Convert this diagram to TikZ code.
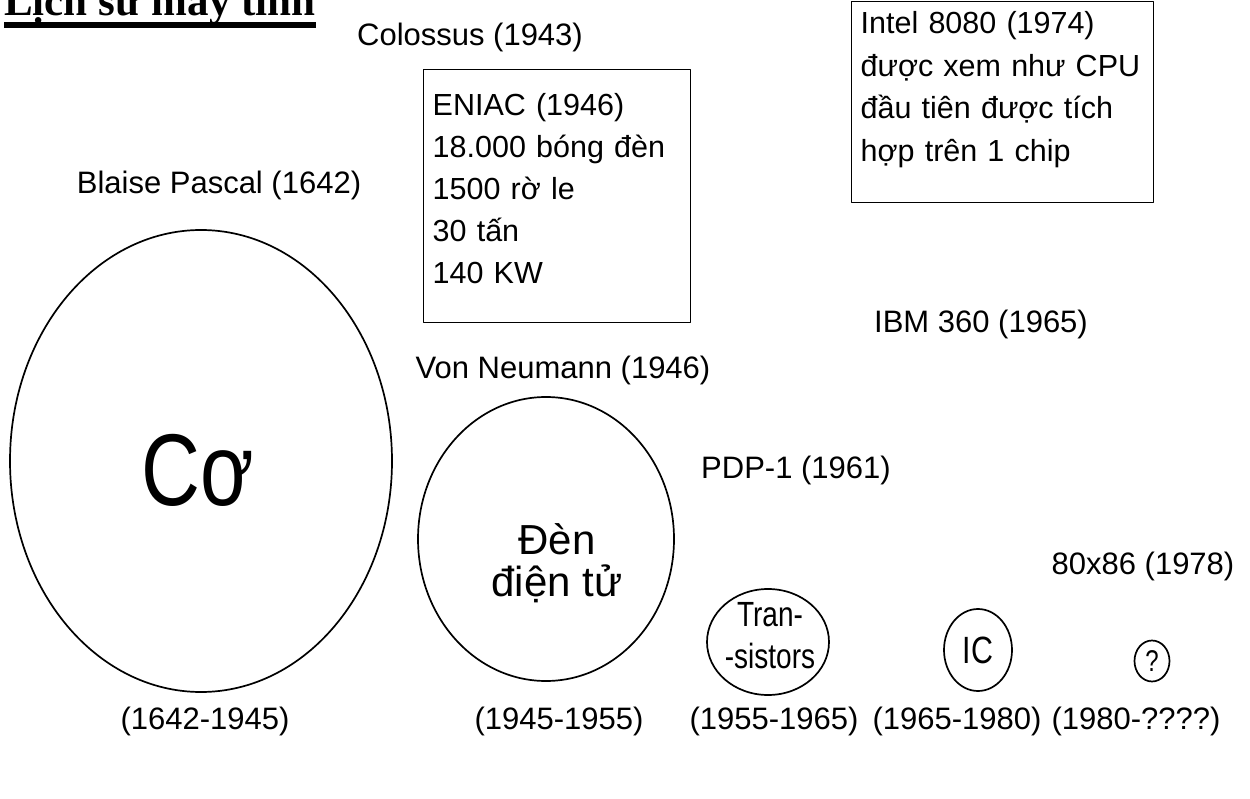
\documentclass[tikz,border=0pt]{standalone}
\usepackage{fontspec}
\usepackage{graphicx}
\setmainfont{Liberation Sans}
\newfontfamily\titlefont{Liberation Serif}
\usetikzlibrary{shapes.geometric}

% narrow letters inside the circles
\newcommand{\narrow}[1]{\scalebox{0.8}[1]{#1}}

\begin{document}
\begin{tikzpicture}[x=1pt, y=-1pt, line join=round,
		% Styles
		era/.style={draw, ellipse, line width=1.7pt, inner sep=0pt},
		era text/.style={align=center, inner sep=0pt},
		machine/.style={anchor=base, inner sep=0pt, font=\fontsize{31}{37}\selectfont},
		period/.style={anchor=base, inner sep=0pt, font=\fontsize{31}{37}\selectfont},
		info box/.style={draw, line width=1.4pt, anchor=north west, align=left,
			inner xsep=9pt, inner ysep=0pt}
		]
		
		\useasboundingbox (0,0) rectangle (1250,799);
		\clip (0,0) rectangle (1250,799);
		
		% Title (cut by the top edge)
		\node[anchor=base west, inner sep=0pt, font=\titlefont\bfseries\fontsize{43}{43}\selectfont] (title) at (4,16) {Lịch sử máy tính};
		\draw[line width=6pt] ([yshift=-9pt]title.base west) -- ([yshift=-9pt]title.base east);
		
		% The eras
		\node[era, minimum width=382pt, minimum height=462pt] (mech) at (201,461) {};
		\node[era, minimum width=256pt, minimum height=284pt] (tube) at (546,539) {};
		\node[era, minimum width=122pt, minimum height=106pt] (trans) at (768,642) {};
		\node[era, minimum width=68pt, minimum height=82pt] (ic) at (978,650) {};
		\node[era, minimum width=35pt, minimum height=41pt] (next) at (1152,661) {};
		
		\node[era text, anchor=base, font=\fontsize{102}{102}\selectfont] (mech text) at (198,505) {\narrow{Cơ}};
		\node[era text, font=\fontsize{42}{42}\selectfont] (tube text) at (557,563) {Đèn\\điện tử};
		\node[era text, font=\fontsize{35}{42}\selectfont] (trans text) at (770,636) {\narrow{Tran-}\\\narrow{-sistors}};
		\node[era text, font=\fontsize{38}{38}\selectfont] (ic text) at (ic.center) {\narrow{IC}};
		\node[era text, font=\fontsize{30}{30}\selectfont] (next text) at (next.center) {\narrow{?}};
		
		% Machines
		\node[machine] (colossus) at (470,46) {Colossus (1943)};
		\node[machine] (pascal) at (219,194) {Blaise Pascal (1642)};
		\node[machine] (ibm) at (981,333) {IBM 360 (1965)};
		\node[machine] (neumann) at (563,378) {Von Neumann (1946)};
		\node[machine] (pdp) at (796,478) {PDP-1 (1961)};
		\node[machine] (x86) at (1143,574) {80x86 (1978)};
		
		\node[info box, minimum width=267pt, minimum height=253pt, text width=249pt,
			font=\fontsize{30.5}{42}\selectfont] (eniac) at (423,69)
			{ENIAC (1946)\\18.000 bóng đèn\\1500 rờ le\\30 tấn\\140 KW\rule[-15pt]{0pt}{0pt}};
		\node[info box, minimum width=302pt, minimum height=201.3pt, text width=284pt,
			font=\fontsize{30.5}{42.5}\selectfont] (intel) at (851,0.7)
			{Intel 8080 (1974)\\được xem như CPU\\đầu tiên được tích\\hợp trên 1 chip\rule[-31pt]{0pt}{0pt}};
		
		% Periods
		\foreach \x/\years in {205/1642-1945, 559/1945-1955, 774/1955-1965, 957/1965-1980, 1136/1980-????}
			\node[period] (p\x) at (\x,729) {(\years)};
		
	\end{tikzpicture}
\end{document}
